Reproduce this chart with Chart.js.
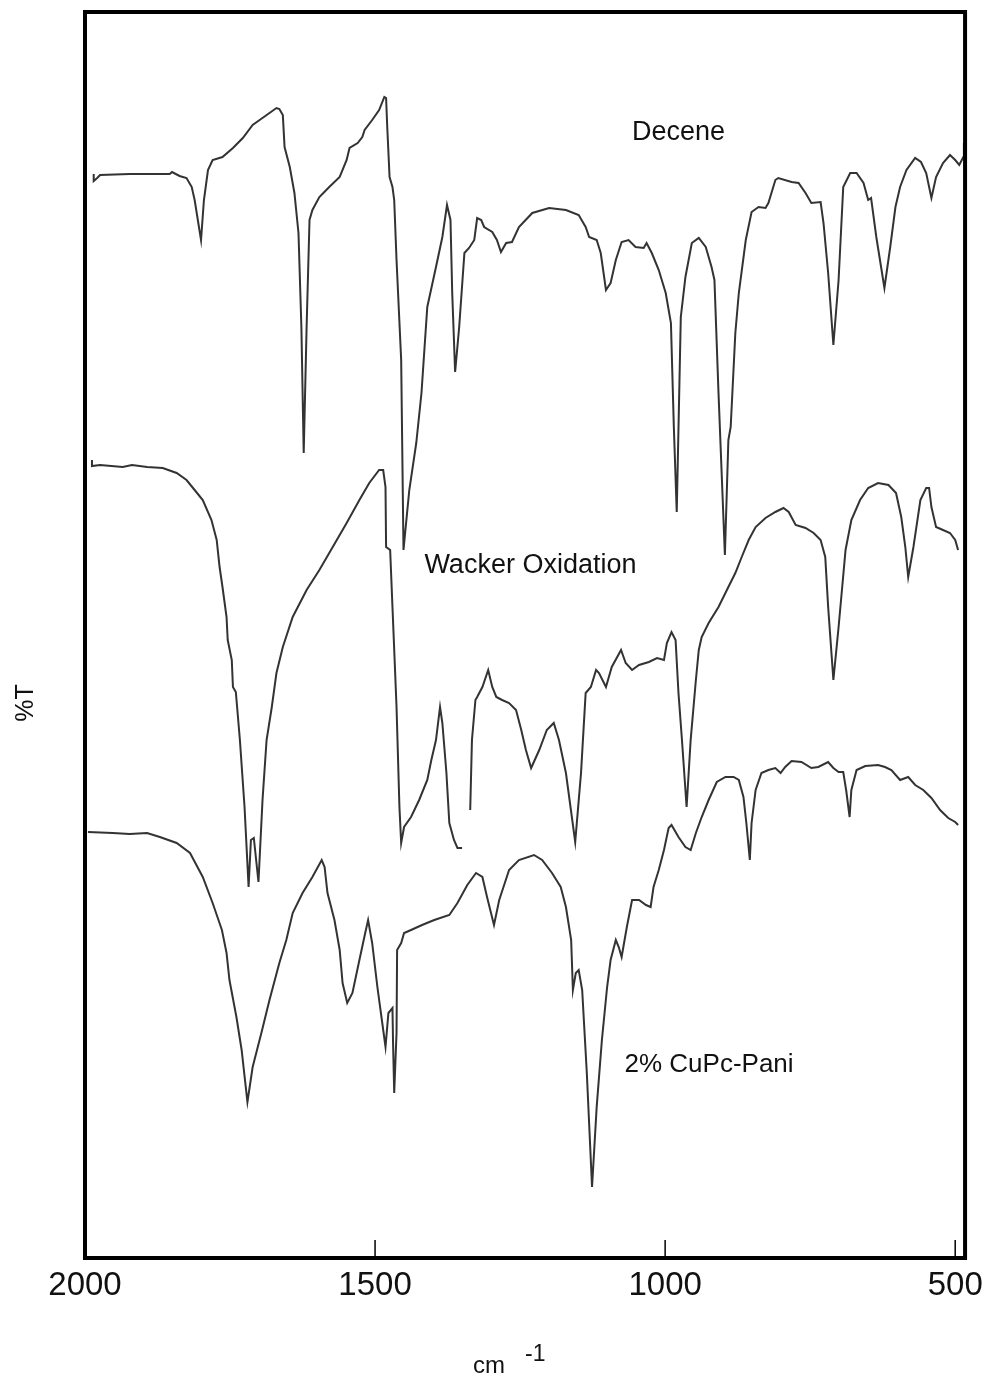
<!DOCTYPE html>
<html>
<head>
<meta charset="utf-8">
<script src="https://cdn.jsdelivr.net/npm/chart.js@4.4.1/dist/chart.umd.min.js"></script>
<style>
  html, body { margin: 0; padding: 0; background: #fff; }
  canvas { display: block; }
</style>
</head>
<body>
<canvas id="ir" width="991" height="1378"></canvas>
<script>
// Wavenumber tick labels (cm-1)
const xTicks = [2000, 1500, 1000, 500];

// Decene
const deceneWn = [1985,1985,1979,1974,1923,1854,1850,1837,1825,1816,
  1811,1800,1795,1788,1780,1763,1745,1728,1711,1699,
  1682,1670,1665,1659,1656,1647,1639,1632,1627,1623,
  1618,1613,1608,1596,1579,1561,1549,1544,1530,1522,
  1518,1505,1493,1484,1481,1479,1475,1470,1467,1463,
  1455,1451,1441,1429,1420,1410,1395,1384,1376,1370,
  1367,1362,1355,1346,1338,1329,1324,1317,1312,1298,
  1290,1283,1274,1264,1252,1229,1200,1171,1149,1137,
  1131,1118,1111,1102,1094,1085,1075,1063,1051,1037,
  1032,1023,1011,999,990,985,980,973,965,954,
  942,930,920,915,908,897,891,887,879,873,
  861,851,839,827,822,810,805,782,770,758,
  748,732,727,719,710,701,693,681,670,658,
  650,645,636,622,612,603,595,584,569,559,
  550,541,533,521,509,500,493,486,485];
const deceneT = [108.4,107.7,108.0,108.3,108.4,108.4,108.6,108.2,108.0,107.1,
  105.8,101.8,105.8,108.8,109.8,110.1,111.0,112.0,113.3,113.8,
  114.5,115.0,114.9,114.3,111.1,109.1,106.5,102.5,93.1,80.5,
  93.1,103.8,104.8,106.1,107.1,108.1,109.8,111.0,111.5,112.1,
  112.8,113.8,114.8,116.1,116.0,113.1,108.1,107.1,105.8,99.8,
  89.8,70.8,76.8,81.5,86.5,95.1,99.1,102.1,105.3,103.8,
  96.5,88.6,93.1,100.5,101.0,101.8,104.0,103.8,103.1,102.6,
  101.8,100.6,101.5,101.6,103.1,104.5,105.0,104.8,104.3,103.1,
  102.1,101.8,100.5,96.8,97.5,99.8,101.6,101.8,101.1,101.0,
  101.5,100.5,98.8,96.5,93.5,83.1,74.6,94.1,98.1,101.5,
  102.0,101.1,99.1,97.8,86.5,70.3,81.8,83.1,92.5,96.5,
  101.8,104.6,105.1,105.0,105.5,107.8,108.0,107.6,107.5,106.5,
  105.5,105.6,103.5,98.5,91.3,97.8,107.1,108.5,108.5,107.5,
  105.8,106.0,102.1,97.0,101.1,105.1,107.1,108.8,110.0,109.6,
  108.5,106.0,108.1,109.5,110.3,109.8,109.3,110.1,111.5];

// Wacker oxidation product (null = break in the trace)
const wackerWn = [1988,1988,1974,1935,1919,1893,1866,1842,1825,1811,
  1797,1782,1773,1768,1763,1756,1754,1747,1745,1740,
  1733,1725,1718,1714,1709,1701,1694,1687,1678,1670,
  1659,1642,1618,1596,1573,1549,1527,1510,1493,1486,
  1482,1481,1474,1470,1463,1458,1455,1450,1438,1424,
  1410,1403,1395,1388,1384,1377,1372,1364,1358,1350,
  1343,1336,1333,1327,1324,1315,1305,1298,1291,1281,
  1269,1257,1248,1240,1231,1217,1204,1192,1183,1171,
  1155,1145,1137,1128,1119,1114,1102,1092,1076,1068,
  1057,1045,1028,1014,1002,997,989,982,977,971,
  963,956,947,942,937,925,908,891,879,868,
  856,844,827,810,796,787,775,758,744,732,
  724,719,710,701,689,679,664,650,633,615,
  602,593,586,581,572,560,550,545,541,533,
  521,509,500,495];
const wackerT = [79.8,79.2,79.3,79.1,79.3,79.1,79.0,78.5,77.8,76.8,
  75.8,73.8,71.8,69.1,67.1,64.1,61.8,59.8,57.1,56.6,
  51.8,45.1,37.1,41.8,42.0,37.6,45.8,51.8,55.1,58.5,
  61.1,64.1,66.8,68.8,71.1,73.5,75.8,77.5,78.8,78.8,
  77.1,71.1,70.8,65.1,55.1,45.1,41.5,43.1,44.1,45.8,
  47.8,49.8,51.8,55.1,53.5,48.5,43.5,41.8,41.0,41.0,
  null,44.8,51.8,55.8,56.1,57.1,58.8,57.1,56.1,55.8,
  55.5,54.8,52.8,50.8,49.0,50.8,52.8,53.5,51.8,48.5,
  41.6,48.5,56.5,57.1,58.8,58.5,57.1,59.1,60.8,59.5,
  58.8,59.3,59.6,60.0,59.8,61.5,62.6,61.8,56.5,51.8,
  45.1,51.8,57.8,60.8,62.1,63.5,65.1,67.1,68.5,70.1,
  71.8,73.1,74.0,74.6,75.0,74.6,73.3,73.0,72.5,71.8,
  70.1,65.1,57.8,63.1,70.8,73.8,75.8,77.0,77.5,77.3,
  76.5,74.1,71.1,68.1,71.1,75.8,77.0,77.0,75.1,73.1,
  72.8,72.5,71.8,70.8];

// 2% CuPc-Pani catalyst
const paniWn = [1995,1952,1923,1893,1871,1842,1819,1797,1780,1764,
  1756,1751,1739,1730,1720,1711,1696,1682,1665,1653,
  1642,1625,1608,1592,1587,1582,1570,1561,1556,1548,
  1539,1527,1517,1512,1505,1496,1489,1482,1477,1470,
  1469,1467,1463,1462,1455,1450,1438,1419,1398,1372,
  1358,1341,1326,1315,1307,1295,1286,1269,1252,1226,
  1212,1195,1180,1171,1162,1159,1154,1149,1143,1135,
  1126,1118,1109,1100,1094,1085,1080,1075,1066,1057,
  1045,1033,1025,1020,1011,1002,994,989,977,965,
  956,947,937,925,911,896,882,873,865,860,
  854,851,844,834,822,810,801,793,782,765,
  748,736,719,710,701,693,688,682,679,670,
  655,633,621,610,595,581,569,555,541,526,
  512,500,495];
const paniT = [42.6,42.5,42.4,42.5,42.1,41.5,40.5,38.1,35.5,32.8,
  30.5,27.8,24.1,20.8,15.6,19.1,22.5,25.8,29.5,31.8,
  34.5,36.5,38.1,39.8,39.1,36.5,33.8,30.8,27.5,25.5,
  26.5,29.8,32.5,33.8,31.5,27.1,24.1,21.1,24.5,25.0,
  21.5,16.5,22.5,30.8,31.5,32.5,32.8,33.3,33.8,34.3,
  35.5,37.3,38.5,38.1,36.1,33.3,35.8,38.8,39.8,40.3,
  39.8,38.5,37.1,35.1,31.8,26.8,28.5,28.8,26.8,18.5,
  7.1,15.1,21.8,27.1,29.8,31.8,31.1,30.1,33.1,35.8,
  35.8,35.3,35.1,37.1,38.8,40.8,43.0,43.3,42.1,41.1,
  40.8,42.5,44.1,45.8,47.6,48.1,48.1,47.8,46.1,43.5,
  39.8,43.5,46.8,48.5,48.8,49.0,48.5,49.1,49.7,49.6,
  49.0,49.1,49.6,49.0,48.6,48.6,46.8,44.1,46.8,48.8,
  49.2,49.3,49.1,48.8,47.8,48.1,47.3,46.8,46.0,44.8,
  44.0,43.6,43.3];

const seriesNames = ['Decene', 'Wacker Oxidation', '2% CuPc-Pani'];

const FONT = '"Liberation Sans", Arial, Helvetica, sans-serif';
const toPoints = (wn, t) => wn.map((v, i) => ({ x: v, y: t[i] }));

// Frame, inner tick marks, trace labels and axis captions
const decorations = {
  id: 'decorations',
  beforeDraw(chart) {
    const { ctx, width, height } = chart;
    ctx.save();
    ctx.fillStyle = '#ffffff';
    ctx.fillRect(0, 0, width, height);
    ctx.restore();
  },
  afterDraw(chart, args, opts) {
    const { ctx, chartArea: a, scales: { x, y } } = chart;
    ctx.save();
    ctx.strokeStyle = '#000';
    ctx.lineWidth = 4;
    ctx.strokeRect(a.left, a.top, a.right - a.left, a.bottom - a.top);

    ctx.lineWidth = 1.5;
    opts.innerTicks.forEach(v => {
      const px = x.getPixelForValue(v);
      ctx.beginPath();
      ctx.moveTo(px, a.bottom);
      ctx.lineTo(px, a.bottom - 18);
      ctx.stroke();
    });

    ctx.fillStyle = '#111';
    ctx.textAlign = 'left';
    ctx.textBaseline = 'alphabetic';
    opts.traceLabels.forEach(l => {
      ctx.font = l.size + 'px ' + FONT;
      ctx.fillText(l.text, x.getPixelForValue(l.x), y.getPixelForValue(l.y));
    });

    // y caption
    ctx.save();
    ctx.translate(26, 703);
    ctx.rotate(-Math.PI / 2);
    ctx.textAlign = 'center';
    ctx.textBaseline = 'middle';
    ctx.font = '25px ' + FONT;
    ctx.fillText('%T', 0, 0);
    ctx.restore();

    // x caption with raised exponent
    ctx.font = '24px ' + FONT;
    ctx.fillText('cm', 473, 1373);
    ctx.font = '23px ' + FONT;
    ctx.fillText('-1', 525, 1361);
    ctx.restore();
  }
};

const lineStyle = {
  borderColor: '#333',
  borderWidth: 2,
  pointRadius: 0,
  tension: 0,
  spanGaps: false,
  showLine: true
};

new Chart(document.getElementById('ir'), {
  type: 'scatter',
  data: {
    datasets: [
      { label: seriesNames[0], data: toPoints(deceneWn, deceneT), ...lineStyle },
      { label: seriesNames[1], data: toPoints(wackerWn, wackerT), ...lineStyle },
      { label: seriesNames[2], data: toPoints(paniWn, paniT), ...lineStyle }
    ]
  },
  options: {
    responsive: false,
    animation: false,
    devicePixelRatio: 1,
    layout: { padding: { top: 12, right: 24, bottom: 0, left: 0 } },
    plugins: {
      legend: { display: false },
      tooltip: { enabled: false },
      decorations: {
        innerTicks: [1500, 1000, 500],
        traceLabels: [
          { text: seriesNames[0], x: 1057, y: 111.8, size: 27 },
          { text: seriesNames[1], x: 1415, y: 68.5, size: 27 },
          { text: seriesNames[2], x: 1070, y: 18.6, size: 26 }
        ]
      }
    },
    scales: {
      x: {
        type: 'linear',
        reverse: true,
        min: 483,
        max: 2000,
        afterBuildTicks: s => { s.ticks = xTicks.map(v => ({ value: v })); },
        afterFit: s => { s.height = 120; },
        grid: { display: false, drawTicks: false },
        border: { display: false },
        ticks: {
          padding: 8,
          maxRotation: 0,
          autoSkip: false,
          color: '#111',
          font: { family: FONT, size: 33 },
          callback: v => String(v)
        }
      },
      y: {
        type: 'linear',
        min: 0,
        max: 124.6,
        afterFit: s => { s.width = 85; },
        grid: { display: false, drawTicks: false },
        border: { display: false },
        ticks: { display: false }
      }
    }
  },
  plugins: [decorations]
});
</script>
</body>
</html>
